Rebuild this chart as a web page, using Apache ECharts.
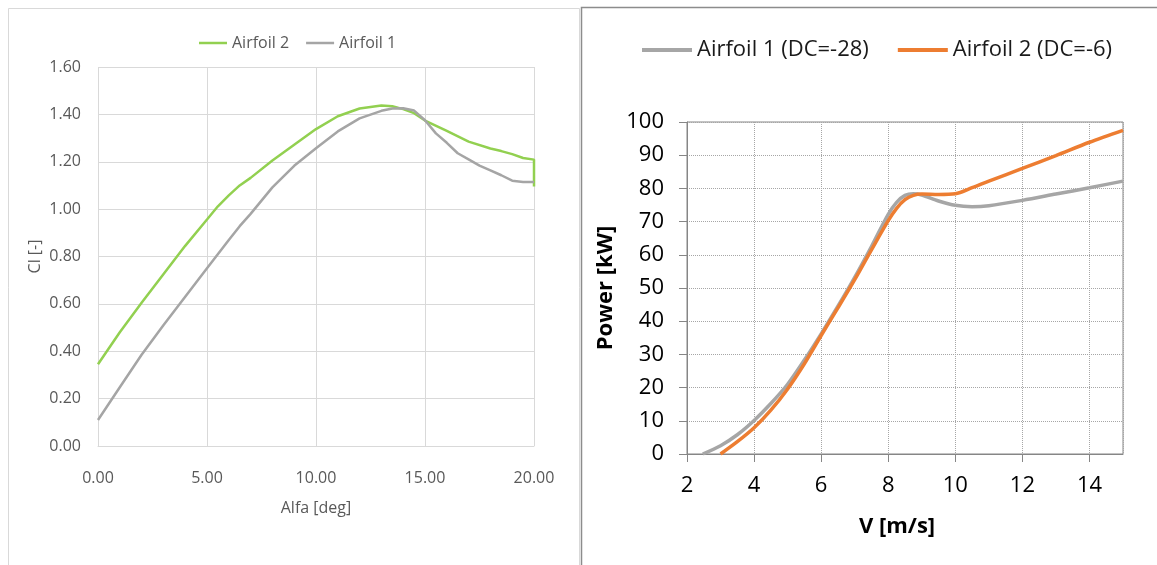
<!DOCTYPE html>
<html>
<head>
<meta charset="utf-8">
<title>Airfoil comparison</title>
<script src="https://cdn.jsdelivr.net/npm/echarts@6/dist/echarts.min.js"></script>
<style>
    html, body { margin: 0; padding: 0; background: #fff; }
    #chartsDOM { width: 1157px; height: 565px; }
</style>
</head>
<body>
<div id="chartsDOM"></div>
<script>
// 左图: 升力系数 Cl vs 攻角
var alfa2 = [0, 1, 2, 3, 4, 5, 5.5, 6, 6.5, 7, 8, 9, 10, 11, 12, 13, 13.5, 14, 14.5, 15, 16, 17, 18, 18.5, 19, 19.5, 20, 20];
var cl2 = [0.345, 0.48, 0.605, 0.725, 0.845, 0.956, 1.012, 1.058, 1.10, 1.132, 1.205, 1.272, 1.338, 1.392, 1.425, 1.437, 1.434, 1.422, 1.405, 1.374, 1.33, 1.285, 1.256, 1.245, 1.232, 1.216, 1.209, 1.096];
var alfa1 = [0, 1, 2, 3, 4, 5, 6, 6.5, 7, 8, 9, 10, 11, 12, 13, 13.5, 14, 14.5, 15, 15.5, 16, 16.5, 17, 17.5, 18, 18.5, 19, 19.5, 20];
var cl1 = [0.11, 0.248, 0.385, 0.51, 0.63, 0.75, 0.87, 0.928, 0.98, 1.092, 1.183, 1.257, 1.328, 1.383, 1.415, 1.425, 1.426, 1.416, 1.375, 1.32, 1.28, 1.236, 1.21, 1.184, 1.164, 1.143, 1.12, 1.115, 1.114];

// 右图: 功率曲线
var speed1 = [2.47, 3, 3.5, 4, 4.5, 5, 5.5, 6, 6.5, 7, 7.5, 8, 8.25, 8.5, 8.75, 9, 9.5, 10, 10.5, 11, 12, 13, 14, 15];
var power1 = [0, 2.5, 5.8, 10.1, 15.2, 21.0, 28.3, 36.2, 44.5, 53.2, 62.5, 72.2, 75.8, 77.9, 78.4, 78.0, 76.2, 74.9, 74.5, 74.8, 76.4, 78.3, 80.2, 82.2];
var speed2 = [3, 3.5, 4, 4.5, 5, 5.5, 6, 6.5, 7, 7.5, 8, 8.25, 8.5, 8.75, 9, 9.5, 10, 10.5, 11, 12, 13, 14, 15];
var power2 = [0, 3.7, 7.9, 13.2, 19.6, 27.2, 35.7, 44.0, 52.5, 61.5, 70.3, 74.0, 76.6, 77.9, 78.3, 78.2, 78.4, 80.2, 82.2, 86.0, 89.9, 93.9, 97.5];

function pairs(xs, ys) {
    return xs.map(function (x, i) { return [x, ys[i]]; });
}

var myChart = echarts.init(document.getElementById('chartsDOM'));
var font = 'Open Sans';
var lightGrey = '#d9d9d9';
var axisGrey = '#868686';

var option = {
    backgroundColor: '#fff',
    animation: false,
    textStyle: { fontFamily: font },
    graphic: [
        { type: 'rect', silent: true, z: -10, shape: { x: 8.5, y: 8.5, width: 571, height: 600 }, style: { fill: null, stroke: lightGrey, lineWidth: 1 } },
        { type: 'rect', silent: true, z: -10, shape: { x: 581.5, y: 7.5, width: 600, height: 600 }, style: { fill: null, stroke: '#8c8c8c', lineWidth: 1.5 } }
    ],
    legend: [
        {
            left: 194, top: 30,
            icon: 'rect', itemWidth: 28, itemHeight: 2.5, itemGap: 17,
            textStyle: { fontSize: 16, color: '#595959', fontFamily: font },
            data: ['Airfoil 2', 'Airfoil 1']
        },
        {
            left: 637, top: 34,
            icon: 'rect', itemWidth: 50, itemHeight: 4, itemGap: 29,
            textStyle: { fontSize: 22, color: '#1a1a1a', fontFamily: font },
            data: ['Airfoil 1 (DC=-28)', 'Airfoil 2 (DC=-6)']
        }
    ],
    grid: [
        { left: 98, top: 67, width: 436, height: 379 },
        { left: 687, top: 122, width: 436, height: 332, show: true, borderColor: axisGrey, borderWidth: 1 }
    ],
    xAxis: [
        {
            gridIndex: 0, type: 'value', min: 0, max: 20, interval: 5,
            name: 'Alfa [deg]', nameLocation: 'middle', nameGap: 54,
            nameTextStyle: { fontSize: 16, color: '#595959' },
            axisLine: { lineStyle: { color: lightGrey } },
            axisTick: { show: false },
            axisLabel: { fontSize: 16, color: '#595959', margin: 24, formatter: function (v) { return v.toFixed(2); } },
            splitLine: { show: true, lineStyle: { color: lightGrey } }
        },
        {
            gridIndex: 1, type: 'value', min: 2, max: 15, interval: 2,
            name: 'V [m/s]', nameLocation: 'middle', nameGap: 62,
            nameTextStyle: { fontSize: 22, fontWeight: 'bold', color: '#000', padding: [0, 16, 0, 0] },
            axisLine: { lineStyle: { color: axisGrey } },
            axisTick: { show: true, inside: false, length: 8, lineStyle: { color: axisGrey } },
            axisLabel: { fontSize: 22, color: '#000', margin: 21, showMaxLabel: false },
            splitLine: { show: true, lineStyle: { color: '#a6a6a6', type: [1, 1] } }
        }
    ],
    yAxis: [
        {
            gridIndex: 0, type: 'value', min: 0, max: 1.6, interval: 0.2,
            name: 'Cl [-]', nameLocation: 'middle', nameGap: 55,
            nameTextStyle: { fontSize: 16, color: '#595959' },
            axisLine: { show: false },
            axisTick: { show: false },
            axisLabel: { fontSize: 16, color: '#595959', margin: 17, formatter: function (v) { return v.toFixed(2); } },
            splitLine: { show: true, lineStyle: { color: lightGrey } }
        },
        {
            gridIndex: 1, type: 'value', min: 0, max: 100, interval: 10,
            name: 'Power [kW]', nameLocation: 'middle', nameGap: 70,
            nameTextStyle: { fontSize: 22, fontWeight: 'bold', color: '#000' },
            axisLine: { show: true, lineStyle: { color: axisGrey } },
            axisTick: { show: true, inside: false, length: 8, lineStyle: { color: axisGrey } },
            axisLabel: { fontSize: 22, color: '#000', margin: 23 },
            splitLine: { show: true, lineStyle: { color: '#a6a6a6', type: [1, 1] } }
        }
    ],
    series: [
        {
            name: 'Airfoil 2', type: 'line', xAxisIndex: 0, yAxisIndex: 0,
            data: pairs(alfa2, cl2), showSymbol: false,
            itemStyle: { color: '#92D050' }, lineStyle: { color: '#92D050', width: 2.5 }
        },
        {
            name: 'Airfoil 1', type: 'line', xAxisIndex: 0, yAxisIndex: 0,
            data: pairs(alfa1, cl1), showSymbol: false,
            itemStyle: { color: '#A5A5A5' }, lineStyle: { color: '#A5A5A5', width: 2.5 }
        },
        {
            name: 'Airfoil 1 (DC=-28)', type: 'line', xAxisIndex: 1, yAxisIndex: 1,
            data: pairs(speed1, power1), showSymbol: false, smooth: 0.3,
            itemStyle: { color: '#A6A6A6' }, lineStyle: { color: '#A6A6A6', width: 3.5 }
        },
        {
            name: 'Airfoil 2 (DC=-6)', type: 'line', xAxisIndex: 1, yAxisIndex: 1,
            data: pairs(speed2, power2), showSymbol: false, smooth: 0.3,
            itemStyle: { color: '#ED7D31' }, lineStyle: { color: '#ED7D31', width: 3.5 }
        }
    ]
};

myChart.setOption(option);
window.addEventListener('resize', function () {
    myChart.resize();
});
</script>
</body>
</html>
